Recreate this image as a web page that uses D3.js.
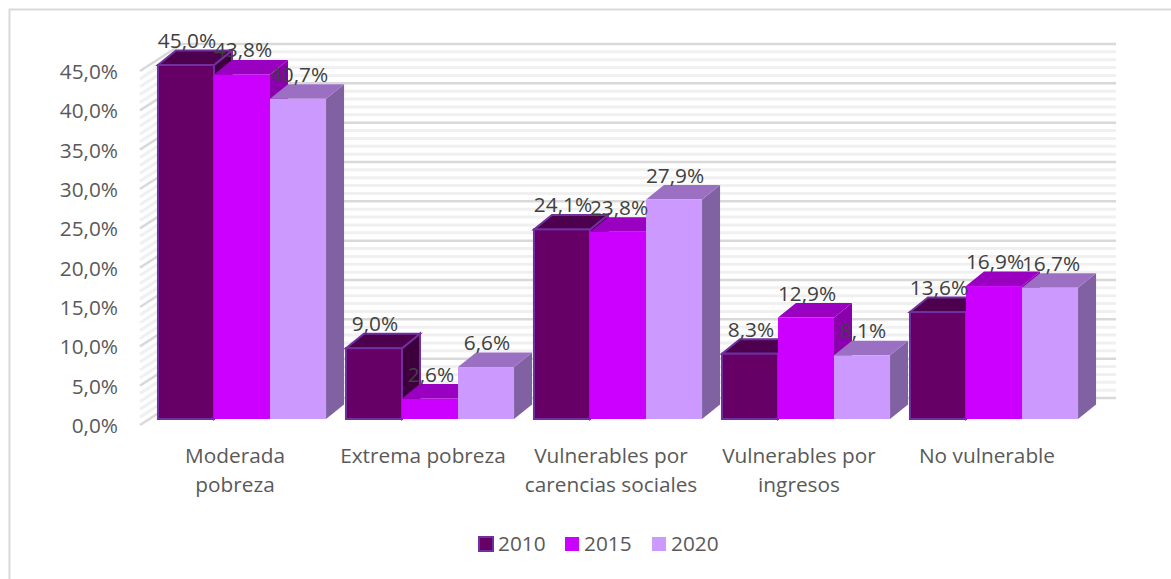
<!DOCTYPE html>
<html>
<head>
<meta charset="utf-8">
<script src="https://cdn.jsdelivr.net/npm/d3@7"></script>
<style>
  html, body { margin: 0; padding: 0; background: #fff; overflow: hidden; }
  text { font-family: "Open Sans", sans-serif; }
</style>
</head>
<body>
<div id="plot"></div>
<script>
let categories = [["Moderada", "pobreza"], ["Extrema pobreza"], ["Vulnerables por", "carencias sociales"], ["Vulnerables por", "ingresos"], ["No vulnerable"]];
let years = ["2010", "2015", "2020"];
let values2010 = [45.0, 9.0, 24.1, 8.3, 13.6];
let values2015 = [43.8, 2.6, 23.8, 12.9, 16.9];
let values2020 = [40.7, 6.6, 27.9, 8.1, 16.7];
let yTicks = [0, 5, 10, 15, 20, 25, 30, 35, 40, 45];
let minorTicks = d3.range(0, 46);

let width = 1171, height = 579;
let fontSize = "20.8px";
let fmt = v => v.toFixed(1).replace(".", ",") + "%";

let svg = d3.select("#plot").append("svg")
  .attr("width", width)
  .attr("height", height)
  .style("display", "block");

// chart frame, only top and left show in the picture
svg.append("path")
  .attr("d", "M9.5," + height + "V9.5H" + width)
  .attr("fill", "none")
  .attr("stroke", "#d9d9d9")
  .attr("stroke-width", 2);

let y = d3.scaleLinear().domain([0, 45]).range([419, 65]);
let x0 = d3.scaleBand()
  .domain(d3.range(categories.length))
  .range([148, 1088])
  .paddingInner(0.106)
  .paddingOuter(0.053);
let x1 = d3.scaleBand().domain(years).range([0, x0.bandwidth()]);

// bar depth
let depthX = 18, depthY = 14.5;

// walls: left wall diagonals then back wall lines
let wallX0 = 140, wallX1 = 182, backEnd = 1116;
let grid = svg.append("g").attr("fill", "none");
minorTicks.forEach(function(v) {
  let major = v % 5 == 0;
  let color = major ? "#d9d9d9" : "#f0f0f0";
  let w = major ? 2.5 : 3;
  grid.append("line")
    .attr("x1", wallX0).attr("y1", y(v) + 6)
    .attr("x2", wallX1).attr("y2", y(v) - 21)
    .attr("stroke", color).attr("stroke-width", w);
  grid.append("line")
    .attr("x1", wallX1).attr("y1", y(v) - 21)
    .attr("x2", backEnd).attr("y2", y(v) - 21)
    .attr("stroke", color).attr("stroke-width", w);
});

// y axis
let yAxis = svg.append("g")
  .attr("transform", "translate(118,7)")
  .call(d3.axisLeft(y).tickValues(yTicks).tickSize(0).tickPadding(0).tickFormat(fmt));
yAxis.select(".domain").remove();
yAxis.selectAll("text")
  .style("font-family", '"Open Sans", sans-serif')
  .style("font-size", fontSize)
  .attr("fill", "#595959");

let series = [
  { year: "2010", values: values2010, front: "#660066", top: "#4d004d", side: "#3d003d", stroke: "#7030a0", sw: 2 },
  { year: "2015", values: values2015, front: "#cc00ff", top: "#9900bf", side: "#8a00ad", stroke: "none", sw: 0 },
  { year: "2020", values: values2020, front: "#cc99ff", top: "#9b70c2", side: "#8062a3", stroke: "none", sw: 0 }
];

// bars, left to right so later bars cover earlier sides
categories.forEach(function(c, i) {
  let g = svg.append("g");
  series.forEach(function(s) {
    let left = x0(i) + x1(s.year);
    let right = left + x1.bandwidth();
    let top = y(s.values[i]);
    let bottom = y(0);
    g.append("path")
      .attr("d", d3.line()([[right, top], [right + depthX, top - depthY], [right + depthX, bottom - depthY], [right, bottom]]) + "Z")
      .attr("fill", s.side).attr("stroke", s.stroke).attr("stroke-width", s.sw);
    g.append("path")
      .attr("d", d3.line()([[left, top], [left + depthX, top - depthY], [right + depthX, top - depthY], [right, top]]) + "Z")
      .attr("fill", s.top).attr("stroke", s.stroke).attr("stroke-width", s.sw);
    g.append("rect")
      .attr("x", left).attr("y", top)
      .attr("width", x1.bandwidth()).attr("height", bottom - top)
      .attr("fill", s.front).attr("stroke", s.stroke).attr("stroke-width", s.sw);
  });
});

// data labels go on top of all the bars
series.forEach(function(s) {
  svg.append("g").selectAll("text")
    .data(s.values)
    .enter()
    .append("text")
    .attr("x", (d, i) => x0(i) + x1(s.year) + x1.bandwidth() / 2 + 1)
    .attr("y", d => y(d) - 17)
    .attr("text-anchor", "middle")
    .attr("fill", "#404040")
    .style("font-size", fontSize)
    .text(fmt);
});

// category labels
categories.forEach(function(lines, i) {
  let t = svg.append("text")
    .attr("text-anchor", "middle")
    .attr("fill", "#595959")
    .style("font-size", fontSize);
  lines.forEach(function(line, j) {
    t.append("tspan")
      .attr("x", x0(i) + x0.bandwidth() / 2 - 7)
      .attr("y", 463 + j * 29)
      .text(line);
  });
});

// legend
let legendX = [479, 565, 652];
series.forEach(function(s, i) {
  svg.append("rect")
    .attr("x", legendX[i]).attr("y", 537)
    .attr("width", 14).attr("height", 14)
    .attr("fill", s.front).attr("stroke", s.stroke).attr("stroke-width", s.sw);
  svg.append("text")
    .attr("x", legendX[i] + 19).attr("y", 551)
    .attr("fill", "#595959")
    .style("font-size", fontSize)
    .text(s.year);
});
</script>
</body>
</html>
